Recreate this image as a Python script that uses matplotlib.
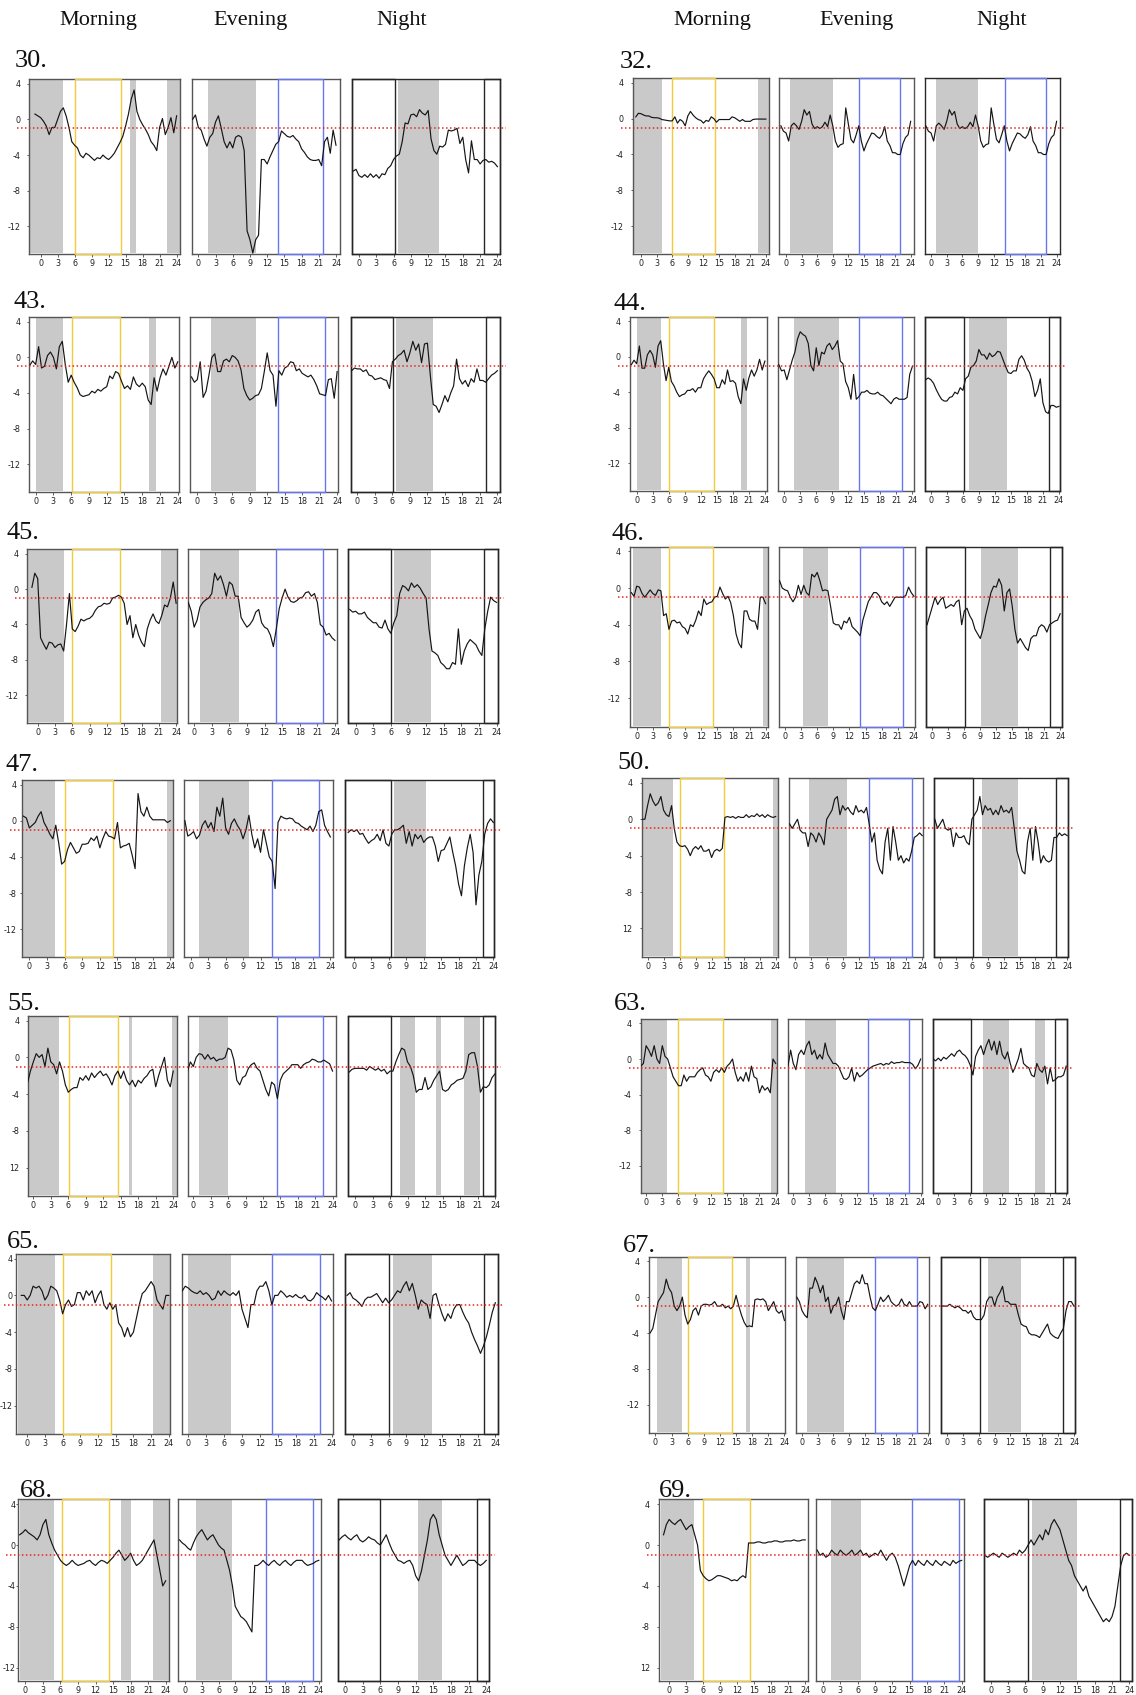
import numpy as np
import matplotlib
matplotlib.use("Agg")
import matplotlib.pyplot as plt
from matplotlib.lines import Line2D
from matplotlib.transforms import blended_transform_factory

plt.rcParams['font.family'] = ['Liberation Sans Narrow', 'DejaVu Sans']

W, H = 1136, 1695

# ---------------------------------------------------------------- data
HOURS = [-1 + 0.5 * i for i in range(51)]          # half-hour grid, -1 .. 24
X_TICKS = [0, 3, 6, 9, 12, 15, 18, 21, 24]
X_TICK_LABELS = ["0", "3", "6", "9", "12", "15", "18", "21", "24"]
Y_TICKS = [4, 0, -4, -8, -12]
Y_TICK_LABELS = ["4", "0", "-4", "-8", "-12"]
Y_TICK_LABELS_ALT = ["4", "0", "-4", "-8", "12"]
COLUMN_TITLES = ["Morning", "Evening", "Night"]
SUBJECTS = [30, 32, 43, 44, 45, 46, 47, 50, 55, 63, 65, 67, 68, 69]
THRESHOLD = -1.0

s30_morning = [0.6, 0.4, 0.2, -0.2, -0.75, -1.7, -0.9, -0.9, 0.0, 0.9,
               1.3, 0.4, -0.9, -2.5, -2.9, -3.2, -4.0, -4.3, -3.8, -4.0,
               -4.3, -4.6, -4.3, -4.4, -4.0, -4.3, -4.5, -4.2, -3.8, -3.2,
               -2.6, -1.9, -0.75, 0.6, 2.3, 3.3, 0.9, 0.0, -0.6, -1.1,
               -1.7, -2.5, -2.9, -3.5, -0.9, 0.1, -1.7, -0.9, 0.2, -1.5,
               0.4]
s30_evening = [0.0, 0.5, -0.9, -1.2, -2.2, -3.0, -2.0, -1.6, -0.3, 0.4,
               -1.0, -2.5, -3.2, -2.5, -3.2, -2.0, -1.8, -2.0, -3.5, -12.5,
               -13.5, -15.0, -13.5, -13.0, -4.5, -4.5, -5.0, -4.2, -3.5, -2.8,
               -2.5, -1.3, -1.6, -1.9, -2.0, -1.8, -2.2, -2.5, -3.3, -3.7,
               -4.2, -4.5, -4.6, -4.6, -4.5, -5.2, -2.5, -2.0, -3.8, -1.2,
               -2.9]
s30_night = [-5.8, -5.6, -6.3, -6.5, -6.2, -6.5, -6.1, -6.5, -6.2, -6.6,
             -6.1, -6.2, -5.5, -5.2, -4.5, -4.1, -3.9, -2.5, -0.4, -0.5,
             0.5, 0.6, 0.3, 1.1, 0.7, 0.5, 1.0, -2.2, -3.5, -3.9,
             -3.0, -3.1, -2.8, -1.2, -1.3, -1.2, -1.0, -2.7, -2.0, -4.5,
             -6.0, -2.4, -4.5, -4.5, -5.0, -4.6, -4.5, -4.8, -4.7, -4.9,
             -5.3]

s32_morning = [0.2, 0.6, 0.55, 0.4, 0.3, 0.3, 0.15, 0.1, 0.1, 0.05,
               -0.1, -0.15, -0.2, -0.25, -0.25, 0.2, -0.5, -0.1, -0.3, -0.8,
               0.3, 0.8, 0.4, 0.1, -0.1, -0.2, -0.5, -0.2, -0.3, 0.2,
               0.0, -0.4, -0.1, -0.1, -0.1, -0.1, -0.1, 0.2, 0.1, -0.1,
               -0.3, -0.1, -0.3, -0.3, -0.3, -0.1, -0.05, -0.05, -0.05, -0.05,
               -0.05]
s32_evening = [-0.8, -1.4, -1.6, -2.5, -0.8, -0.5, -0.8, -1.2, -0.3, 1.0,
               0.4, 0.8, -0.6, -1.1, -0.9, -1.1, -0.9, -0.4, -0.9, 0.4,
               -0.8, -2.5, -3.2, -2.9, -2.8, 1.2, -0.6, -2.3, -2.7, -1.8,
               -0.8, -2.5, -3.6, -2.8, -2.2, -1.6, -1.7, -2.0, -2.2, -1.8,
               -0.9, -2.5, -3.0, -3.8, -3.8, -4.0, -4.0, -2.8, -2.1, -1.8,
               -0.3]
s32_night = [-0.8, -1.4, -1.6, -2.5, -0.8, -0.5, -0.8, -1.2, -0.3, 1.0,
             0.4, 0.8, -0.6, -1.1, -0.9, -1.1, -0.9, -0.4, -0.9, 0.4,
             -0.8, -2.5, -3.2, -2.9, -2.8, 1.2, -0.6, -2.3, -2.7, -1.8,
             -0.8, -2.5, -3.6, -2.8, -2.2, -1.6, -1.7, -2.0, -2.2, -1.8,
             -0.9, -2.5, -3.0, -3.8, -3.8, -4.0, -4.0, -2.8, -2.1, -1.8,
             -0.3]

s43_morning = [-0.9, -0.4, -0.8, 1.2, -1.2, -1.0, 0.2, 0.6, 0.0, -1.3,
               1.2, 1.8, -0.8, -2.8, -2.0, -2.8, -3.4, -4.2, -4.4, -4.3,
               -4.2, -3.8, -4.0, -3.6, -3.8, -3.5, -3.3, -2.1, -2.4, -1.6,
               -1.8, -2.7, -3.5, -3.2, -3.6, -2.2, -3.0, -3.3, -2.9, -3.3,
               -4.8, -5.3, -2.3, -3.8, -2.3, -1.3, -2.0, -1.0, 0.0, -1.2,
               -0.5]
s43_evening = [-2.2, -2.8, -2.5, -0.5, -4.5, -3.8, -2.0, 0.0, 0.4, -1.6,
               -1.6, -0.4, -0.2, -0.5, 0.2, 0.0, -0.4, -1.4, -3.5, -4.3,
               -4.8, -4.6, -4.3, -4.2, -3.5, -1.6, 0.5, -1.5, -2.0, -5.5,
               -1.5, -2.0, -1.2, -1.0, -0.5, -0.6, -1.5, -1.3, -1.8, -2.0,
               -2.2, -2.0, -2.5, -3.2, -4.1, -4.2, -4.3, -2.5, -2.4, -4.6,
               -1.6]
s43_night = [-1.5, -1.2, -1.3, -1.3, -1.6, -1.4, -2.0, -2.1, -2.5, -2.4,
             -2.3, -2.5, -2.6, -3.5, -0.5, -0.2, 0.2, 0.4, 0.8, -0.5,
             0.5, 1.8, 0.8, 1.5, -0.6, 1.5, 1.6, -2.0, -5.3, -5.5,
             -6.2, -5.3, -4.3, -5.0, -4.0, -3.2, -0.2, -2.4, -3.0, -2.6,
             -3.3, -2.4, -2.8, -1.3, -2.6, -2.6, -2.8, -2.4, -2.0, -1.8,
             -1.5]

s44_morning = [-0.9, -0.4, -0.8, 1.2, -1.3, -1.3, 0.2, 0.7, 0.2, -1.2,
               1.2, 1.8, -0.8, -2.7, -1.2, -2.8, -3.3, -4.0, -4.5, -4.3,
               -4.2, -3.8, -3.8, -3.6, -4.0, -3.5, -3.5, -2.5, -2.0, -1.6,
               -2.0, -2.5, -3.5, -3.5, -2.6, -3.1, -1.5, -2.8, -2.7, -3.0,
               -4.5, -5.3, -2.5, -3.8, -2.4, -1.5, -2.2, -1.5, -0.3, -1.5,
               -0.5]
s44_evening = [-0.9, -1.6, -1.5, -2.6, -1.5, -0.4, 0.5, 2.0, 2.8, 2.5,
               2.3, 1.5, -1.0, -1.6, 1.0, -1.0, 0.5, 0.3, 1.2, 1.5,
               0.8, 1.2, 1.8, -0.5, -0.8, -2.8, -3.5, -4.8, -2.0, -4.8,
               -4.5, -4.0, -4.0, -3.8, -4.1, -4.2, -4.2, -4.0, -4.3, -4.4,
               -4.7, -5.0, -5.3, -4.8, -4.6, -4.8, -4.8, -4.8, -4.6, -2.0,
               -1.1]
s44_night = [-2.6, -2.4, -2.6, -3.0, -3.7, -4.3, -4.8, -5.0, -5.0, -4.6,
             -4.5, -4.0, -4.2, -3.5, -3.8, -2.5, -2.2, -1.2, -1.0, -0.5,
             0.8, 0.2, 0.2, -0.3, 0.4, 0.0, 0.2, 0.6, 0.5, -0.3,
             -1.1, -1.8, -1.9, -1.6, -1.6, -0.3, 0.1, -0.4, -1.3, -1.8,
             -2.8, -4.5, -3.8, -2.5, -5.2, -6.2, -6.4, -5.5, -5.5, -5.7,
             -5.6]

s45_morning = [0.2, 1.8, 1.2, -5.5, -6.2, -6.8, -6.0, -6.1, -6.6, -6.3,
               -6.2, -7.0, -4.0, -0.5, -4.5, -4.8, -4.2, -3.4, -3.6, -3.4,
               -3.3, -3.0, -2.4, -2.0, -1.9, -1.6, -1.7, -1.6, -1.0, -0.9,
               -0.7, -0.9, -1.6, -4.0, -3.0, -5.5, -4.0, -5.2, -6.0, -6.5,
               -4.5, -3.5, -2.8, -3.6, -3.9, -3.0, -1.8, -2.0, -1.0, 0.8,
               -1.6]
s45_evening = [-1.5, -2.5, -4.3, -3.5, -2.0, -1.5, -1.2, -1.0, -0.5, 1.8,
               1.0, 1.5, 0.5, -0.8, 0.8, 0.5, -0.8, -0.8, -3.2, -3.8,
               -4.3, -4.0, -3.5, -2.6, -2.3, -3.8, -4.3, -4.5, -5.2, -6.5,
               -4.5, -2.2, -1.0, 0.0, -0.9, -1.4, -1.5, -1.3, -1.0, -0.9,
               -0.4, -0.3, -0.8, -0.5, -1.5, -4.0, -4.3, -5.2, -5.0, -5.5,
               -5.8]
s45_night = [-2.3, -2.6, -2.5, -2.8, -2.8, -2.6, -3.2, -3.5, -3.8, -3.8,
             -4.3, -4.4, -3.5, -4.5, -5.0, -3.8, -3.0, -0.5, 0.4, 0.2,
             -0.2, 0.7, 0.2, 0.5, 0.1, -0.5, -1.0, -4.5, -7.0, -7.2,
             -7.5, -8.3, -8.6, -9.0, -9.0, -8.3, -8.5, -4.5, -8.5, -7.0,
             -6.2, -5.7, -6.0, -6.3, -7.0, -7.5, -4.5, -2.5, -0.9, -1.3,
             -1.5]

s46_morning = [-0.5, -0.9, 0.2, 0.1, -0.6, -1.0, -0.6, -0.2, -0.6, -0.8,
               -0.2, -0.3, -3.0, -2.8, -4.5, -3.6, -3.5, -3.8, -3.7, -4.2,
               -4.4, -5.0, -4.0, -4.2, -3.5, -2.5, -3.0, -1.2, -1.8, -1.6,
               -1.5, -1.0, -0.9, 0.1, -0.6, -1.2, -0.9, -1.6, -3.0, -5.0,
               -6.0, -6.5, -2.5, -2.5, -3.4, -3.6, -3.6, -4.5, -1.0, -1.0,
               -1.7]
s46_evening = [0.8, 0.0, -0.2, -0.3, -1.0, -1.5, -1.0, 0.3, -0.7, 0.3,
               -0.5, -0.8, 1.5, 1.2, 1.7, 0.8, -0.3, -0.2, -0.3, -2.0,
               -3.8, -4.0, -4.0, -4.5, -3.6, -3.8, -3.2, -4.2, -4.5, -4.8,
               -5.2, -3.5, -2.5, -1.5, -1.0, -0.5, -0.5, -0.8, -1.5, -1.8,
               -1.5, -2.0, -1.5, -1.0, -1.0, -1.0, -1.0, -0.8, 0.1, -0.5,
               -0.9]
s46_night = [-4.0, -3.0, -2.0, -1.0, -1.8, -1.3, -1.0, -2.2, -2.0, -1.8,
             -2.0, -1.5, -1.3, -4.0, -2.5, -2.2, -3.0, -3.5, -4.5, -5.0,
             -5.5, -4.5, -3.0, -1.8, -0.5, 0.2, 0.1, 1.0, 0.3, -2.5,
             -0.5, -0.1, -2.0, -4.5, -6.0, -5.5, -6.0, -6.5, -6.8, -5.5,
             -5.2, -5.2, -4.3, -4.0, -4.2, -4.8, -4.0, -3.8, -3.6, -3.5,
             -2.8]

s47_morning = [0.5, 0.3, -0.8, -0.5, -0.2, 0.5, 1.0, -0.2, -0.8, -1.5,
               -2.0, -0.5, -2.5, -4.8, -4.5, -3.2, -2.4, -3.0, -3.6, -3.4,
               -2.6, -2.6, -2.5, -1.9, -2.2, -1.7, -3.0, -2.0, -1.2, -1.7,
               -1.8, -2.0, -0.2, -3.0, -2.8, -2.7, -2.5, -3.8, -5.3, 3.0,
               1.0, 0.5, 1.5, 0.5, 0.1, 0.1, 0.1, 0.1, 0.1, -0.2,
               0.0]
s47_evening = [0.0, -1.7, -1.5, -1.2, -2.0, -1.6, -0.5, 0.0, -0.8, -0.2,
               -1.2, 1.5, 0.5, 2.5, -0.8, -1.5, -0.3, 0.2, -0.5, -1.0,
               -2.0, -1.0, 0.6, -1.5, -3.0, -2.0, -3.5, -1.0, -2.5, -4.0,
               -4.5, -7.5, -0.2, 0.5, 0.3, 0.2, 0.3, 0.2, -0.2, -0.3,
               -0.6, -0.8, -1.0, -0.6, -1.2, -0.5, 1.0, 1.2, -0.5, -1.2,
               -1.8]
s47_night = [-1.3, -1.0, -1.2, -1.0, -1.5, -1.4, -2.0, -2.5, -2.2, -2.0,
             -1.5, -2.2, -1.0, -2.5, -2.8, -1.5, -1.0, -1.0, -0.8, -0.5,
             -2.5, -1.2, -2.8, -1.5, -2.0, -1.6, -2.4, -2.0, -1.8, -1.8,
             -2.8, -4.5, -3.3, -3.2, -2.5, -1.8, -3.5, -5.0, -7.0, -8.3,
             -5.0, -3.0, -1.5, -3.5, -9.3, -6.0, -4.5, -1.5, -0.3, 0.2,
             -0.2]

s50_morning = [0.0, 0.0, 1.5, 2.8, 2.0, 1.5, 1.8, 2.5, 1.0, 0.5,
               0.3, 1.5, -1.0, -2.5, -2.9, -3.0, -2.9, -3.3, -4.0, -3.3,
               -3.0, -3.3, -2.9, -3.5, -3.5, -3.3, -4.2, -3.5, -3.3, -3.5,
               -3.2, 0.2, 0.3, 0.2, 0.3, 0.1, 0.3, 0.2, 0.2, 0.5,
               0.2, 0.4, 0.3, 0.6, 0.3, 0.5, 0.2, 0.5, 0.3, 0.2,
               0.3]
s50_evening = [-0.5, -1.0, -0.5, 0.0, -1.2, -1.5, -1.5, -3.0, -1.5, -1.8,
               -2.5, -1.5, -2.0, -2.8, 0.0, 0.5, 1.0, 2.2, 2.5, 0.5,
               1.5, 1.0, 1.3, 0.8, 0.5, 1.5, 0.8, 1.0, 0.7, 1.3,
               -0.5, -2.5, -1.5, -4.5, -5.5, -6.0, -2.5, -1.0, -4.5, -0.8,
               -2.5, -4.5, -4.0, -4.8, -4.3, -4.6, -3.5, -2.0, -1.8, -1.5,
               -1.8]
s50_night = [0.0, -1.0, -0.5, 0.0, -1.0, -1.2, -1.0, -3.0, -1.5, -2.0,
             -2.0, -1.8, -2.5, -2.8, 0.0, 0.5, 1.0, 2.5, 0.5, 1.5,
             1.0, 1.2, 0.5, 1.0, 0.5, 1.5, 0.8, 1.0, 0.7, 1.3,
             -1.0, -3.5, -4.5, -5.7, -6.0, -2.5, -1.0, -4.5, -0.8, -2.5,
             -4.8, -4.0, -4.5, -4.7, -4.5, -2.0, -2.0, -1.5, -1.8, -1.6,
             -1.8]

s55_morning = [-2.8, -1.5, -0.5, 0.4, 0.0, 0.3, -1.0, 1.0, -0.5, -0.8,
               -1.8, -0.5, -1.5, -3.0, -3.8, -3.5, -3.3, -3.3, -2.2, -2.5,
               -2.0, -2.5, -1.7, -2.2, -1.8, -1.5, -2.0, -1.8, -2.3, -3.0,
               -2.0, -1.5, -2.3, -1.5, -2.5, -3.0, -2.5, -3.2, -2.5, -2.8,
               -2.3, -2.0, -1.5, -1.3, -3.2, -2.0, -1.0, 0.0, -2.5, -3.2,
               -1.5]
s55_evening = [-1.5, -0.5, -1.0, 0.0, 0.4, 0.3, -0.2, 0.3, -0.2, 0.0,
               -0.4, -0.2, -0.2, 0.0, 1.0, 0.8, -0.3, -2.5, -3.0, -2.2,
               -2.0, -1.2, -0.8, -0.6, -1.2, -1.5, -2.5, -3.5, -4.2, -2.7,
               -3.0, -4.5, -2.5, -1.8, -1.5, -1.2, -0.8, -0.8, -0.8, -1.2,
               -0.8, -0.6, -0.5, -0.2, -0.3, -0.5, -0.5, -0.3, -0.5, -0.7,
               -1.5]
s55_night = [-1.6, -1.3, -1.2, -1.2, -1.2, -1.2, -1.4, -1.0, -1.2, -1.4,
             -1.2, -1.5, -1.3, -1.8, -1.5, -1.5, -0.5, 0.3, 1.0, 0.8,
             -0.5, -1.0, -2.0, -3.8, -3.5, -3.5, -2.2, -3.5, -3.2, -2.5,
             -2.0, -1.5, -3.5, -3.7, -3.5, -3.0, -2.8, -2.5, -2.4, -2.3,
             -1.5, 0.3, 0.5, 0.5, -1.0, -3.8, -3.2, -3.3, -3.0, -2.2,
             -1.8]

s63_morning = [-0.8, -0.5, 1.5, 1.0, 0.3, 1.5, 0.0, -0.5, 1.5, 0.3,
               0.0, -1.0, -2.0, -2.5, -3.0, -3.0, -1.8, -2.5, -2.0, -2.0,
               -2.0, -1.5, -1.2, -1.0, -1.8, -2.0, -2.5, -1.5, -1.2, -1.5,
               -1.0, -1.5, -0.8, -0.5, 0.0, -1.5, -2.5, -2.0, -2.5, -1.5,
               -2.5, -0.8, -2.0, -2.2, -3.8, -3.0, -3.5, -3.2, -3.8, 0.0,
               -0.5]
s63_evening = [-0.8, 1.0, -0.5, -1.2, 0.5, 1.0, 0.5, 1.5, 2.0, 0.5,
               1.0, 0.0, 0.5, 0.0, 1.8, 0.5, 0.0, -0.5, -0.5, -0.8,
               -1.5, -2.2, -2.3, -2.0, -1.0, -2.5, -1.5, -2.0, -1.8, -1.5,
               -1.2, -1.0, -0.8, -0.7, -0.6, -0.5, -0.7, -0.5, -0.6, -0.3,
               -0.5, -0.4, -0.4, -0.3, -0.4, -0.4, -0.4, -0.6, -1.1, -0.7,
               0.0]
s63_night = [0.0, -0.2, 0.1, -0.2, 0.2, 0.0, 0.3, 0.6, 0.3, 0.8,
             1.0, 0.6, 0.4, 0.0, -0.7, -1.8, 0.3, 1.0, 1.5, 0.5,
             1.5, 2.2, 1.0, 2.0, 0.5, 2.0, 0.5, 0.0, 0.8, -0.5,
             -1.5, -0.8, 0.0, 1.2, -0.5, -0.8, -1.0, -1.8, -2.0, -0.5,
             -1.2, -1.5, -0.8, -2.8, -1.0, -2.5, -2.3, -2.0, -2.0, -1.8,
             -0.8]

s65_morning = [0.0, 0.0, -0.5, 0.0, 1.0, 0.8, 1.0, 0.5, -0.5, 0.0,
               1.0, 0.8, 0.5, -0.5, -2.0, -1.0, -0.5, -1.2, -1.0, 0.3,
               0.3, -0.5, 0.5, 0.0, 0.5, -0.8, 0.0, 0.5, -1.0, -1.5,
               -0.8, -1.5, -1.0, -3.0, -3.5, -4.5, -3.5, -4.5, -4.0, -2.5,
               -1.0, 0.2, 0.5, 1.0, 1.5, 1.0, -0.5, -1.0, -1.5, 0.0,
               0.0]
s65_evening = [0.5, 1.0, 0.8, 0.5, 0.3, 0.2, 0.5, 0.1, 0.3, 0.0,
               -0.5, -0.3, 0.5, 0.0, 0.5, 0.2, 0.0, 0.3, 0.0, 0.5,
               -1.5, -2.5, -3.5, -1.0, -1.0, 0.5, 1.0, 1.0, 1.5, 0.5,
               -1.0, 0.0, 0.0, 0.5, 0.2, -0.2, 0.0, -0.2, 0.1, -0.2,
               -0.3, 0.0, -0.5, -0.6, -0.3, 0.3, 0.0, -0.2, -0.5, 0.0,
               -0.6]
s65_night = [0.0, 0.3, -0.3, -0.5, -0.8, -1.2, -0.5, -0.2, -0.2, 0.0,
             0.2, -0.3, -0.8, -0.3, -0.8, -0.5, 0.0, 0.5, 0.3, 1.0,
             1.5, 0.5, 1.3, 0.0, -1.5, -0.5, -0.8, -1.0, -2.5, 0.0,
             0.2, -1.0, -2.0, -2.8, -2.0, -2.5, -1.5, -1.0, -1.0, -1.8,
             -2.5, -3.0, -4.0, -4.8, -5.5, -6.3, -5.5, -4.5, -3.2, -1.8,
             -0.8]

s67_morning = [-4.0, -3.5, -2.0, -0.5, 0.0, 0.5, 2.0, 1.0, 0.5, -1.0,
               -1.5, -1.0, 0.0, -2.0, -3.0, -2.5, -1.5, -1.2, -2.0, -1.0,
               -0.8, -0.8, -0.9, -0.8, -0.5, -1.0, -1.0, -0.8, -1.2, -1.0,
               -1.3, -1.0, 0.2, -1.0, -2.0, -2.8, -3.3, -3.2, -3.3, -0.3,
               -0.2, -0.3, -0.2, -0.5, -1.5, -1.0, -0.5, -1.5, -1.8, -1.5,
               -2.6]
s67_evening = [0.0, -0.5, -1.5, -2.0, -2.3, 1.0, 1.0, 2.2, 1.5, 0.5,
               1.3, -0.5, 0.0, -1.8, -1.0, -0.8, 0.0, -1.5, -2.5, -0.5,
               -0.5, 0.5, 1.5, 1.8, 1.5, 2.5, 1.5, 1.5, 0.0, -1.2,
               -1.5, -0.8, 0.0, -0.5, -0.2, 0.2, -0.5, -0.8, -1.0, -0.8,
               -0.2, -0.8, -1.0, -0.5, -1.0, -1.0, -1.0, -0.5, -0.6, -1.3,
               -0.8]
s67_night = [-1.0, -1.0, -1.0, -0.8, -1.0, -1.2, -1.0, -1.2, -1.5, -1.5,
             -1.8, -1.5, -2.2, -2.5, -2.5, -2.5, -2.0, -0.5, 0.0, 0.0,
             -1.0, 0.0, 0.5, 1.2, -0.5, -0.5, -0.8, -0.8, -0.8, -2.0,
             -3.0, -3.2, -3.3, -4.0, -4.2, -4.2, -4.3, -4.5, -4.0, -3.5,
             -3.0, -4.0, -4.3, -4.5, -4.6, -4.0, -3.5, -1.5, -0.5, -0.5,
             -1.0]

s68_morning = [1.0, 1.2, 1.5, 1.2, 1.0, 0.8, 0.5, 1.0, 2.0, 2.5,
               1.0, 0.2, -0.5, -1.0, -1.5, -1.8, -2.0, -1.8, -1.5, -1.8,
               -2.0, -1.9, -1.8, -1.6, -1.5, -1.8, -2.0, -1.7, -1.5, -1.6,
               -1.8, -1.5, -1.2, -0.8, -0.5, -1.0, -1.5, -1.2, -0.8, -1.5,
               -2.0, -1.8, -1.5, -1.0, -0.5, 0.0, 0.5, -1.0, -2.5, -4.0,
               -3.5]
s68_evening = [0.5, 0.2, 0.0, -0.3, -0.5, 0.2, 0.8, 1.2, 1.5, 1.0,
               0.5, 0.8, 1.0, 0.5, 0.0, -0.3, -0.5, -1.5, -2.5, -4.0,
               -6.0, -6.5, -7.0, -7.2, -7.5, -8.0, -8.5, -2.0, -2.0, -1.8,
               -1.5, -1.8, -2.0, -1.7, -1.5, -1.8, -2.0, -1.7, -1.5, -1.8,
               -2.0, -1.7, -1.5, -1.5, -1.5, -1.8, -2.0, -1.9, -1.8, -1.6,
               -1.5]
s68_night = [0.5, 0.8, 1.0, 0.7, 0.5, 0.8, 1.0, 0.5, 0.3, 0.5,
             0.8, 0.6, 0.5, 0.2, 0.0, 0.5, 1.0, 0.2, -0.5, -1.0,
             -1.5, -1.6, -1.8, -1.6, -1.5, -2.0, -3.0, -3.5, -2.5, -1.0,
             0.5, 2.5, 3.0, 2.5, 1.0, 0.0, -1.0, -1.5, -2.0, -1.5,
             -1.0, -1.5, -2.0, -1.8, -1.5, -1.5, -1.5, -1.8, -2.0, -1.8,
             -1.5]

s69_morning = [1.0, 2.0, 2.5, 2.2, 2.0, 2.3, 2.5, 2.0, 1.5, 1.8,
               2.0, 1.0, 0.0, -2.5, -3.0, -3.3, -3.5, -3.4, -3.2, -3.0,
               -3.0, -3.1, -3.2, -3.3, -3.5, -3.4, -3.5, -3.2, -3.0, -3.2,
               0.2, 0.2, 0.2, 0.3, 0.3, 0.2, 0.2, 0.3, 0.3, 0.4,
               0.4, 0.3, 0.3, 0.4, 0.4, 0.4, 0.5, 0.4, 0.4, 0.5,
               0.5]
s69_evening = [-0.5, -1.0, -0.8, -1.2, -1.0, -0.5, -0.8, -1.0, -0.5, -0.8,
               -1.0, -0.8, -0.5, -1.0, -0.8, -0.5, -1.0, -0.8, -1.2, -1.0,
               -0.8, -1.0, -0.5, -1.0, -1.5, -1.0, -0.8, -1.2, -2.0, -3.0,
               -4.0, -3.0, -2.0, -1.5, -2.0, -1.5, -1.8, -2.0, -1.5, -1.8,
               -2.0, -1.5, -1.8, -2.0, -1.6, -1.8, -2.0, -1.5, -1.8, -1.6,
               -1.5]
s69_night = [-1.0, -1.2, -1.0, -0.8, -1.0, -1.2, -0.8, -1.0, -1.2, -1.0,
             -0.8, -1.0, -0.5, -0.8, -0.5, 0.0, 0.5, 0.0, 0.5, 1.0,
             0.5, 1.5, 1.0, 2.0, 2.5, 2.0, 1.5, 0.5, -0.5, -1.5,
             -2.0, -3.0, -3.5, -4.0, -4.5, -4.0, -5.0, -5.5, -6.0, -6.5,
             -7.0, -7.5, -7.2, -7.5, -7.0, -6.0, -4.0, -2.0, -1.0, -0.8,
             -1.0]

# grey (shaded) periods per panel: [morning, evening, night]
gray30 = [[(-2.0, 4.0), (15.75, 16.9), (22.3, 24.6)], [(1.7, 10.05)], [(6.7, 13.8)]]
gray32 = [[(-1.6, 4.0), (22.4, 24.6)], [(0.8, 9.0)], [(1.0, 9.0)]]
gray43 = [[(0.05, 4.6), (19.2, 20.3)], [(2.3, 10.0)], [(6.7, 12.9)]]
gray44 = [[(0.0, 4.6), (19.5, 20.6)], [(1.8, 10.25)], [(7.2, 14.3)]]
gray45 = [[(-1.8, 4.6), (21.4, 24.1)], [(1.0, 7.7)], [(6.6, 12.8)]]
gray46 = [[(-0.6, 4.5), (23.6, 24.5)], [(3.3, 8.1)], [(9.1, 16.0)]]
gray47 = [[(-1.3, 4.3), (23.4, 24.4)], [(1.4, 10.0)], [(6.8, 12.4)]]
gray50 = [[(-0.8, 4.7), (23.6, 24.5)], [(2.6, 9.75)], [(7.9, 14.7)]]
gray55 = [[(-0.7, 4.4), (16.4, 16.9), (23.8, 24.6)], [(1.0, 6.0)],
          [(7.7, 10.3), (13.9, 14.7), (18.7, 21.4)]]
gray63 = [[(-0.8, 3.9), (23.1, 24.3)], [(2.2, 8.0)], [(8.4, 13.2), (18.1, 20.1)]]
gray65 = [[(-1.6, 4.7), (21.4, 24.2)], [(0.0, 7.1)], [(6.8, 13.4)]]
gray67 = [[(0.25, 4.9), (16.9, 17.5)], [(0.9, 8.0)], [(7.7, 13.9)]]
gray68 = [[(-0.9, 4.9), (16.3, 18.0), (21.8, 24.5)], [(2.0, 8.5)], [(12.4, 16.5)]]
gray69 = [[(-1.5, 4.3)], [(1.4, 6.6)], [(7.2, 15.0)]]

# outlined periods per panel: y = yellow, b = blue, k = black
box30 = [[(6.05, 14.2, "y")], [(13.9, 21.8, "b")], [(-1.15, 6.2, "k"), (21.7, 24.45, "k")]]
box32 = [[(6.0, 14.2, "y")], [(14.0, 21.9, "b")], [(14.1, 21.9, "b")]]
box43 = [[(6.1, 14.3, "y")], [(13.9, 21.9, "b")], [(-1.15, 6.1, "k"), (22.1, 24.45, "k")]]
box44 = [[(6.1, 14.4, "y")], [(14.0, 22.0, "b")], [(-1.1, 6.25, "k"), (22.1, 24.2, "k")]]
box45 = [[(6.0, 14.2, "y")], [(14.0, 21.9, "b")], [(-1.25, 6.1, "k"), (21.8, 24.3, "k")]]
box46 = [[(6.1, 14.2, "y")], [(14.0, 21.9, "b")], [(-1.2, 6.1, "k"), (22.0, 24.4, "k")]]
box47 = [[(6.0, 14.2, "y")], [(14.05, 22.0, "b")], [(-1.55, 6.3, "k"), (22.2, 24.1, "k")]]
box50 = [[(6.1, 14.3, "y")], [(14.0, 22.0, "b")], [(-1.1, 6.3, "k"), (21.9, 24.2, "k")]]
box55 = [[(6.2, 14.5, "y")], [(14.4, 22.4, "b")], [(-1.15, 6.1, "k"), (21.9, 24.0, "k")]]
box63 = [[(6.0, 14.3, "y")], [(14.0, 21.9, "b")], [(-1.05, 6.2, "k"), (21.9, 24.1, "k")]]
box65 = [[(6.0, 14.2, "y")], [(14.0, 22.0, "b")], [(-1.35, 6.1, "k"), (22.1, 24.5, "k")]]
box67 = [[(6.0, 14.3, "y")], [(14.0, 22.0, "b")], [(-1.2, 6.2, "k"), (21.9, 24.2, "k")]]
box68 = [[(6.2, 14.3, "y")], [(14.6, 23.0, "b")], [(-1.2, 6.0, "k"), (22.5, 24.4, "k")]]
box69 = [[(6.0, 14.3, "y")], [(15.4, 23.5, "b")], [(-1.2, 6.5, "k"), (22.3, 24.4, "k")]]

SERIES = {
    30: (s30_morning, s30_evening, s30_night), 32: (s32_morning, s32_evening, s32_night),
    43: (s43_morning, s43_evening, s43_night), 44: (s44_morning, s44_evening, s44_night),
    45: (s45_morning, s45_evening, s45_night), 46: (s46_morning, s46_evening, s46_night),
    47: (s47_morning, s47_evening, s47_night), 50: (s50_morning, s50_evening, s50_night),
    55: (s55_morning, s55_evening, s55_night), 63: (s63_morning, s63_evening, s63_night),
    65: (s65_morning, s65_evening, s65_night), 67: (s67_morning, s67_evening, s67_night),
    68: (s68_morning, s68_evening, s68_night), 69: (s69_morning, s69_evening, s69_night),
}
GRAY = {30: gray30, 32: gray32, 43: gray43, 44: gray44, 45: gray45, 46: gray46, 47: gray47,
        50: gray50, 55: gray55, 63: gray63, 65: gray65, 67: gray67, 68: gray68, 69: gray69}
BOXES = {30: box30, 32: box32, 43: box43, 44: box44, 45: box45, 46: box46, 47: box47,
         50: box50, 55: box55, 63: box63, 65: box65, 67: box67, 68: box68, 69: box69}
ALT_YLABELS = {50, 55, 69}

# ---------------------------------------------------------------- layout (pixels)
# subject: ((top, bottom), [(left, right, xmin, xmax) for morning, evening, night])
LAYOUT = {
    30: ((79.3, 254), [(29.3, 180, -2.0, 24.6), (192, 340, -1.1, 24.7), (352.3, 500, -1.15, 24.45)]),
    32: ((78.3, 254), [(632.7, 769, -1.6, 24.6), (779.3, 914.3, -1.3, 24.7), (925, 1060, -1.15, 24.65)]),
    43: ((317.3, 491.7), [(29.3, 179, -1.07, 24.2), (190.3, 338.3, -1.2, 24.2), (350.7, 500, -1.15, 24.45)]),
    44: ((316.7, 490.7), [(630, 767.3, -1.25, 24.45), (778.3, 914, -1.1, 24.3), (925, 1060, -1.1, 24.2)]),
    45: ((549.3, 722.7), [(27.3, 176.7, -1.8, 24.1), (188.3, 336.7, -1.0, 24.3), (348.3, 498.3, -1.25, 24.3)]),
    46: ((546.7, 726.7), [(630, 768.3, -1.25, 24.5), (779, 915, -1.1, 24.2), (926, 1062.3, -1.2, 24.4)]),
    47: ((780, 957.3), [(21.7, 172.7, -1.3, 24.4), (184.3, 333.3, -1.1, 24.5), (345, 494, -1.55, 24.1)]),
    50: ((778.3, 956.7), [(641.7, 778.3, -1.1, 24.5), (789, 923.3, -1.1, 24.2), (934.3, 1068.3, -1.1, 24.2)]),
    55: ((1016, 1196), [(28.3, 176.7, -0.86, 24.6), (188.3, 336, -0.86, 24.6), (348.3, 495, -1.15, 24.0)]),
    63: ((1019, 1193.3), [(640.7, 777.3, -1.0, 24.3), (787.7, 921.7, -1.05, 24.2), (932.7, 1066.7, -1.05, 24.1)]),
    65: ((1254, 1434.3), [(16, 170, -1.9, 24.2), (181.7, 333.3, -1.1, 24.3), (345, 498.3, -1.35, 24.5)]),
    67: ((1256.7, 1432.7), [(649, 785, -1.2, 24.1), (795.7, 929.3, -1.2, 24.3), (940.7, 1075, -1.2, 24.2)]),
    68: ((1499, 1681), [(18.4, 168.6, -1.2, 24.5), (178.4, 321, -1.2, 24.4), (338, 488.6, -1.2, 24.4)]),
    69: ((1499, 1681), [(659, 807.5, -1.8, 24.4), (816, 964, -1.2, 24.4), (983.6, 1131.7, -1.2, 24.4)]),
}
LABEL_POS = {30: (15, 66.7), 32: (620, 68.3), 43: (14, 308), 44: (613, 310),
             45: (7, 539), 46: (612, 540), 47: (5, 770.7), 50: (617, 769.3),
             55: (7, 1010), 63: (614, 1010), 65: (7, 1248.3), 67: (623, 1251.7),
             68: (19.5, 1497), 69: (659, 1497)}
TITLE_X = [98, 250, 402, 712, 857, 1002]
Y_PAD = {65: 0.8, 68: 0.8, 47: 2.5}

YLIM = (-15.1, 4.5)
YLIM_LAST = (-13.3, 4.5)

GRAY_C = "#c9c9c9"
BOX_C = {"y": "#f1cb3c", "b": "#6676ee", "k": "#262626"}
SERIF = ["Liberation Serif", "DejaVu Serif"]
NARROW = ["Liberation Sans Narrow", "DejaVu Sans"]

fig = plt.figure(figsize=(W / 100, H / 100), dpi=100)
fig.patch.set_facecolor("white")

for i, t in enumerate(COLUMN_TITLES * 2):
    fig.text(TITLE_X[i] / W, 1 - 25 / H, t, ha="center", va="baseline",
             fontsize=16, family=SERIF, color="#111111")

for sid in SUBJECTS:
    (top, bot), panels = LAYOUT[sid]
    ylim = YLIM_LAST if sid in (68, 69) else YLIM
    lx, ly = LABEL_POS[sid]
    fig.text(lx / W, 1 - ly / H, f"{sid}.", ha="left", va="baseline",
             fontsize=19, family=SERIF, color="#111111")
    axes = []
    for k, (l, r, xlo, xhi) in enumerate(panels):
        ax = fig.add_axes([l / W, 1 - bot / H, (r - l) / W, (bot - top) / H])
        ax.set_xlim(xlo, xhi)
        ax.set_ylim(*ylim)
        for a, b in GRAY[sid][k]:
            ax.axvspan(a, b, ymin=0.004, ymax=0.996, color=GRAY_C, lw=0, zorder=1)
        for a, b, kind in BOXES[sid][k]:
            ax.axvspan(a, b, ymin=0, ymax=1, fill=False, edgecolor=BOX_C[kind],
                       lw=1.0, zorder=3, clip_on=False)
        vals = SERIES[sid][k]
        n = min(len(vals), len(HOURS))
        ax.plot(HOURS[:n], vals[:n], color="#151515", lw=0.85, zorder=4)
        ax.set_xticks(X_TICKS)
        ax.set_xticklabels(X_TICK_LABELS, family=NARROW)
        if k == 0:
            ax.set_yticks(Y_TICKS)
            ax.set_yticklabels(Y_TICK_LABELS_ALT if sid in ALT_YLABELS else Y_TICK_LABELS,
                               family=NARROW)
        else:
            ax.set_yticks([])
        ax.tick_params(axis="x", labelsize=5.8, length=2, width=0.5, pad=1.5, colors="#222222")
        ax.tick_params(axis="y", labelsize=5.8, length=1.5, width=0.5,
                       pad=Y_PAD.get(sid, 5), colors="#222222")
        for sp in ax.spines.values():
            sp.set_color("#2a2a2a" if k == 2 else "#555555")
            sp.set_linewidth(1.0)
        axes.append(ax)
    # dotted reference line across the whole row
    trans = blended_transform_factory(fig.transFigure, axes[0].transData)
    x0 = max(panels[0][0] - 12, 0) / W
    x1 = (panels[2][1] + 6) / W
    fig.add_artist(Line2D([x0, x1], [THRESHOLD, THRESHOLD], transform=trans,
                          color="#e8261c", lw=1.1, linestyle=(0, (1, 1.6)), zorder=10))

fig.savefig("out.png", dpi=100, facecolor="white")
